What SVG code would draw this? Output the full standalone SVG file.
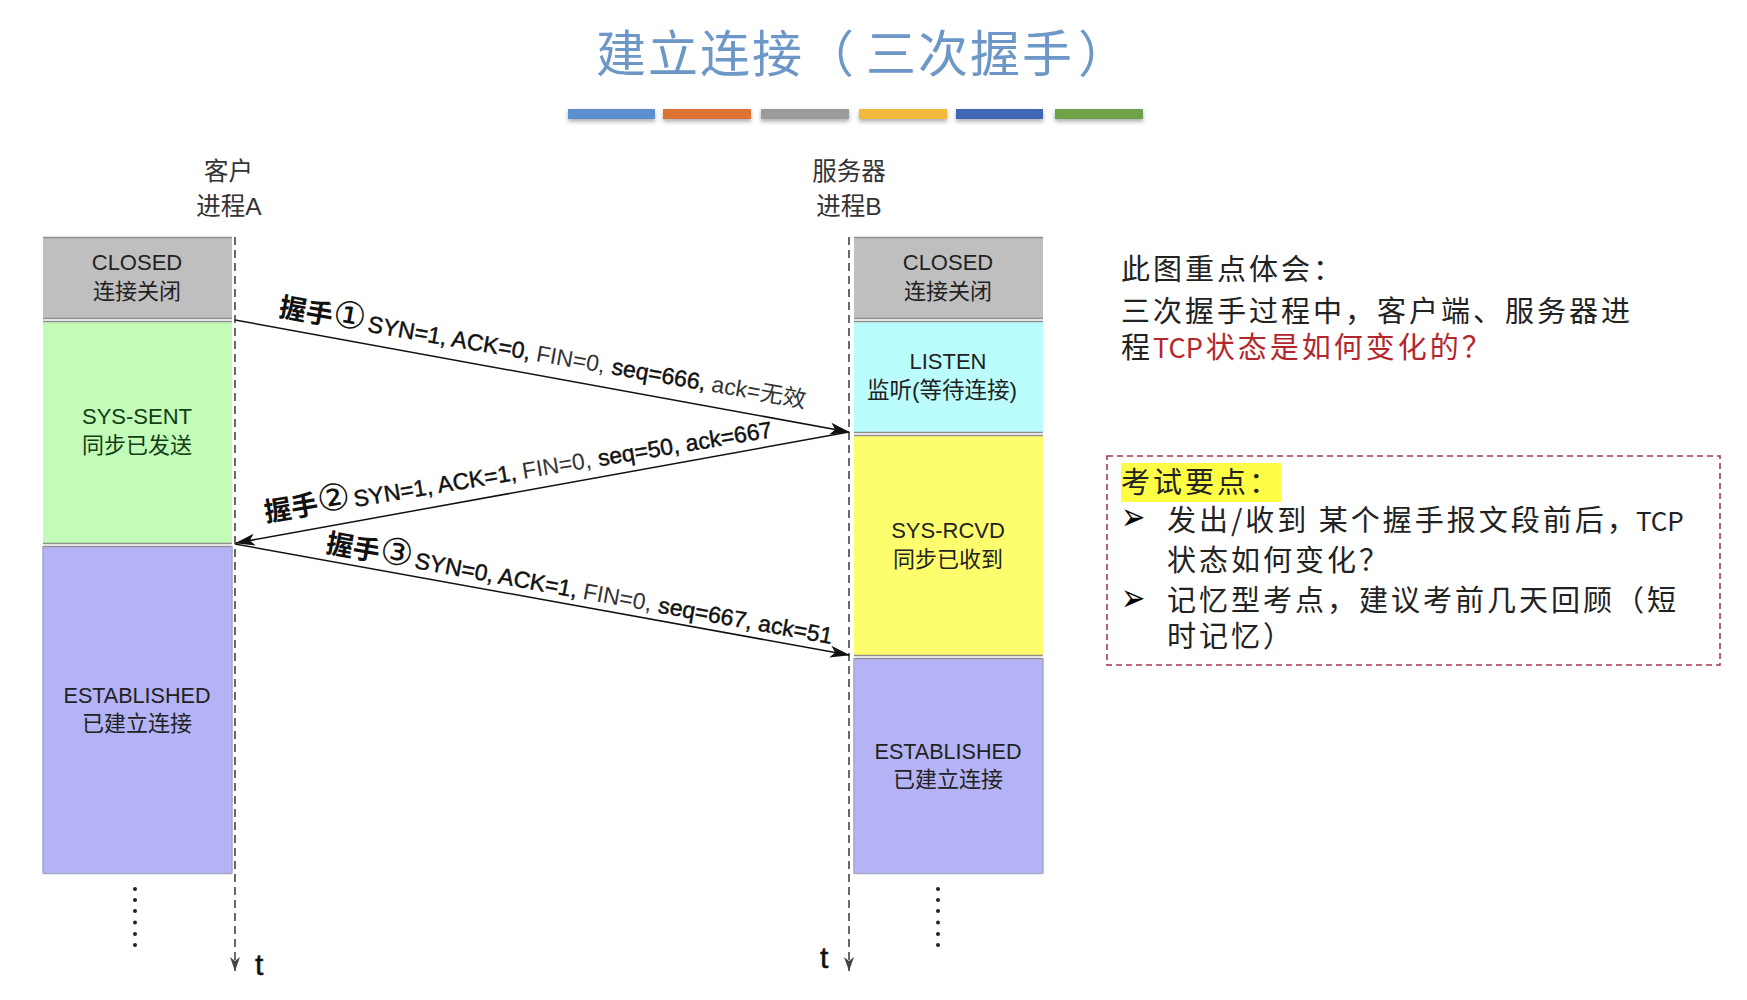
<svg xmlns="http://www.w3.org/2000/svg" width="1747" height="1000" viewBox="0 0 1747 1000">
<style>
text{font-family:"Liberation Sans","Noto Sans CJK SC",sans-serif;fill:#222}
.c{text-anchor:middle}
.s{font-size:22px}
.h{font-size:24.5px;fill:#333}
.b{stroke:#8f8f8f;stroke-width:1.6;fill:none}
.sd{stroke:#a9a9c8;stroke-width:1.6;fill:none}
.life{stroke:#444;stroke-width:1.6;stroke-dasharray:8 5;fill:none}
.msg{stroke:#111;stroke-width:1.5;fill:none;marker-end:url(#stealth)}
.bar{filter:url(#sh)}
.m{font-size:23px;fill:#111}
.cj{font-family:"Noto Sans CJK SC",sans-serif;font-weight:700;font-size:27px}
.n{font-family:"Liberation Sans","DejaVu Sans",sans-serif;font-size:37px;font-weight:400}
.md{stroke:#111;stroke-width:.45}
.lt{fill:#333}
.r{font-family:"Noto Sans CJK SC",sans-serif;font-size:29px;letter-spacing:3px;font-weight:400;fill:#222}
.red{fill:#b3262c}
.dot{fill:#222}
.bl{font-family:"DejaVu Sans",sans-serif;font-size:29px;fill:#000}
</style>
<defs>
<filter id="sh" x="-5%" y="-40%" width="110%" height="200%"><feDropShadow dx="0" dy="2.5" stdDeviation="2" flood-color="#555" flood-opacity=".5"/></filter>
<marker id="stealth" viewBox="0 0 20 12" refX="19" refY="6" markerWidth="20" markerHeight="12" markerUnits="userSpaceOnUse" orient="auto"><path d="M0 0L20 6L0 12L5 6Z" fill="#111"/></marker>
<marker id="open" viewBox="0 0 12 20" refX="6" refY="19" markerWidth="12" markerHeight="20" markerUnits="userSpaceOnUse" orient="0"><path d="M1 5L6 19L11 5L6 9Z" fill="#444"/></marker>
</defs>
<rect width="1747" height="1000" fill="#fff"/>

<g id="title">
<text x="596" y="72" style="font-family:'Noto Sans CJK SC',sans-serif;font-size:50px;letter-spacing:2px;fill:#6c97c6">建立连接（<tspan dx="10">三次握手</tspan><tspan dx="4">）</tspan></text>
<rect class="bar" x="568" y="109" width="87" height="10" fill="#5b8fce"/>
<rect class="bar" x="663" y="109" width="88" height="10" fill="#dd7232"/>
<rect class="bar" x="761" y="109" width="88" height="10" fill="#9b9b9b"/>
<rect class="bar" x="859" y="109" width="88" height="10" fill="#f0b93a"/>
<rect class="bar" x="956" y="109" width="87" height="10" fill="#4066b8"/>
<rect class="bar" x="1055" y="109" width="88" height="10" fill="#6fa34a"/>
</g>

<g id="header-a"><text class="c h" x="228.5" y="180">客户</text><text class="c h" x="229" y="215">进程A</text></g>
<g id="header-b"><text class="c h" x="849" y="180">服务器</text><text class="c h" x="849" y="215">进程B</text></g>

<g id="a-closed"><rect x="43" y="237" width="189" height="82" fill="#c0bfc0"/><path class="b" d="M43 237.5H232M43 318.5H232"/><text class="c s" x="137" y="270">CLOSED</text><text class="c s" x="137" y="299">连接关闭</text></g>
<g id="a-syn-sent"><rect x="43" y="322" width="189" height="222" fill="#c2fcb8"/><path class="b" d="M43 321.5H232M43 543.5H232"/><text class="c s" x="137" y="424" style="fill:#123c16">SYS-SENT</text><text class="c s" x="137" y="453" style="fill:#123c16">同步已发送</text></g>
<g id="a-established"><rect x="43" y="546" width="189" height="328" fill="#b3b3f5"/><path class="b" d="M43 546.5H232"/><path class="sd" d="M43 546V873.5M232 546V873.5"/><path class="sd" d="M43 873.5H232" stroke-width="1"/><text class="c s" x="137" y="703" textLength="147" lengthAdjust="spacingAndGlyphs">ESTABLISHED</text><text class="c s" x="137" y="731">已建立连接</text></g>

<g id="b-closed"><rect x="854" y="237" width="189" height="82" fill="#c0bfc0"/><path class="b" d="M854 237.5H1043M854 318.5H1043"/><text class="c s" x="948" y="270">CLOSED</text><text class="c s" x="948" y="299">连接关闭</text></g>
<g id="b-listen"><rect x="854" y="322" width="189" height="110" fill="#bbfdfd"/><path class="b" d="M854 321.5H1043M854 432.5H1043"/><text class="c s" x="948" y="369">LISTEN</text><text class="c s" x="942" y="398" style="font-size:22.5px">监听(等待连接)</text></g>
<g id="b-syn-rcvd"><rect x="854" y="436" width="189" height="220" fill="#fdfd6e"/><path class="b" d="M854 435.5H1043M854 655.5H1043"/><text class="c s" x="948" y="538">SYS-RCVD</text><text class="c s" x="948" y="567">同步已收到</text></g>
<g id="b-established"><rect x="854" y="658" width="189" height="216" fill="#b3b3f5"/><path class="b" d="M854 658.5H1043"/><path class="sd" d="M854 658V873.5M1043 658V873.5"/><path class="sd" d="M854 873.5H1043" stroke-width="1"/><text class="c s" x="948" y="759" textLength="147" lengthAdjust="spacingAndGlyphs">ESTABLISHED</text><text class="c s" x="948" y="787">已建立连接</text></g>

<g id="connectors">
<path class="life" d="M235 237V971" marker-end="url(#open)"/>
<path class="life" d="M849 237V971" marker-end="url(#open)"/>
<path class="msg" d="M235 320L849 432"/>
<path class="msg" d="M849 432L236 543"/>
<path class="msg" d="M235 544L849 655"/>
</g>

<g id="label-1"><text class="m" transform="translate(278 316) rotate(9.9)"><tspan class="cj">握手</tspan><tspan class="n">①</tspan><tspan class="md" dx="3">SYN=1, ACK=0,</tspan><tspan class="lt" dx="6">FIN=0,</tspan><tspan class="md" dx="7" stroke-width=".7">seq=666,</tspan><tspan class="lt" dx="6">ack=无效</tspan></text></g>
<g id="label-2"><text class="m" transform="translate(266 522) rotate(-9.5)"><tspan class="cj">握手</tspan><tspan class="n">②</tspan><tspan class="md" dx="3">SYN=1, ACK=1,</tspan><tspan class="lt" dx="6">FIN=0,</tspan><tspan class="md" dx="7">seq=50, ack=667</tspan></text></g>
<g id="label-3"><text class="m" transform="translate(325 552) rotate(10.3)"><tspan class="cj">握手</tspan><tspan class="n">③</tspan><tspan class="md" dx="3">SYN=0, ACK=1,</tspan><tspan class="lt" dx="6">FIN=0,</tspan><tspan class="md" dx="7">seq=667, ack=51</tspan></text></g>

<g id="dots-a"><circle class="dot" cx="135" cy="889" r="2"/><circle class="dot" cx="135" cy="900" r="2"/><circle class="dot" cx="135" cy="911" r="2"/><circle class="dot" cx="135" cy="922.5" r="2"/><circle class="dot" cx="135" cy="934" r="2"/><circle class="dot" cx="135" cy="945" r="2"/></g>
<g id="dots-b"><circle class="dot" cx="938" cy="889" r="2"/><circle class="dot" cx="938" cy="900" r="2"/><circle class="dot" cx="938" cy="911" r="2"/><circle class="dot" cx="938" cy="922.5" r="2"/><circle class="dot" cx="938" cy="934" r="2"/><circle class="dot" cx="938" cy="945" r="2"/></g>
<g id="t-a"><text x="255" y="975" style="font-size:30px;fill:#111;stroke:#111;stroke-width:.5">t</text></g>
<g id="t-b"><text x="820" y="968" style="font-size:30px;fill:#111;stroke:#111;stroke-width:.5">t</text></g>

<g id="note">
<text class="r" x="1121" y="280">此图重点体会：</text>
<text class="r" x="1121" y="322">三次握手过程中，客户端、服务器进</text>
<text class="r" x="1121" y="358">程<tspan class="red" letter-spacing="0" font-size="27">TCP</tspan><tspan class="red" dx="3">状态是如何变化的？</tspan></text>
</g>

<g id="exam-box">
<rect x="1107" y="456" width="613" height="209" fill="none" stroke="#a5384e" stroke-width="1.6" stroke-dasharray="6 4"/>
<rect x="1121" y="463" width="160" height="39" fill="#fdfd45"/>
<text class="r" x="1121" y="493">考试要点：</text>
<text class="bl" transform="translate(1121 530) scale(1 1.35)">➢</text>
<text class="r" x="1167" y="531">发出/收到 某个握手报文段前后，<tspan letter-spacing="0" font-size="26" dx="-3">TCP</tspan></text>
<text class="r" x="1167" y="571">状态如何变化？</text>
<text class="bl" transform="translate(1121 611) scale(1 1.35)">➢</text>
<text class="r" x="1167" y="611">记忆型考点，建议考前几天回顾（短</text>
<text class="r" x="1167" y="647">时记忆）</text>
</g>
</svg>
